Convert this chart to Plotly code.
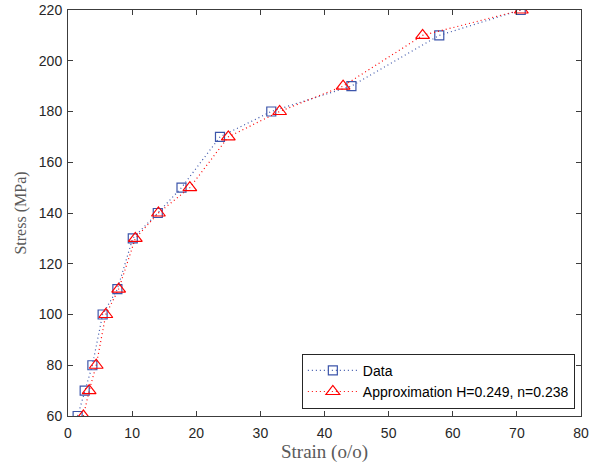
import plotly.graph_objects as go

stress = [60, 70, 80, 100, 110, 130, 140, 150, 170, 180, 190, 210, 220]
strain_data = [1.5, 2.6, 3.8, 5.4, 7.7, 10.1, 14.0, 17.7, 23.7, 31.7, 44.2, 57.9, 70.6]
strain_approx = [2.4, 3.3, 4.4, 5.9, 7.9, 10.5, 14.1, 19.0, 25.0, 33.0, 42.9, 55.3, 70.7]

blue = "rgb(60,85,170)"
red = "rgb(255,0,0)"

fig = go.Figure()
fig.add_trace(go.Scatter(
    x=strain_data, y=stress, mode="lines+markers", name="Data",
    line=dict(color=blue, dash="1px,3px", width=1.2),
    marker=dict(symbol="square-open", size=9, color=blue, line=dict(width=1.2)),
))
fig.add_trace(go.Scatter(
    x=strain_approx, y=stress, mode="lines+markers", name="Approximation H=0.249, n=0.238",
    line=dict(color=red, dash="1px,3px", width=1.2),
    marker=dict(symbol="triangle-up-open", size=12, color=red, line=dict(width=1.2)),
))

axis_common = dict(
    showline=True, linecolor="rgb(60,60,60)", linewidth=1, mirror="ticks",
    ticks="inside", ticklen=5, tickcolor="rgb(60,60,60)", showgrid=False, zeroline=False,
    automargin=False,
    tickfont=dict(family="Liberation Sans, Arial, sans-serif", size=14, color="rgb(38,38,38)"),
)
fig.update_xaxes(range=[0, 80], dtick=10, ticklabelstandoff=4, **axis_common,
                 title=dict(text="Strain (o/o)", standoff=0,
                            font=dict(family="Liberation Serif, Times New Roman, serif", size=19, color="rgb(90,90,90)")))
fig.update_yaxes(range=[60, 220], dtick=20, ticklabelstandoff=2, **axis_common,
                 title=dict(text="Stress (MPa)", standoff=8,
                            font=dict(family="Liberation Serif, Times New Roman, serif", size=16, color="rgb(90,90,90)")))

fig.update_layout(
    width=592, height=468,
    margin=dict(l=68, r=11, t=10, b=52),
    plot_bgcolor="white", paper_bgcolor="white",
    showlegend=True,
    legend=dict(x=0.988, y=0.018, xanchor="right", yanchor="bottom",
                bgcolor="white", bordercolor="rgb(38,38,38)", borderwidth=1,
                font=dict(family="Liberation Sans, Arial, sans-serif", size=14, color="black"),
                tracegroupgap=0, itemwidth=50),
)

fig.write_html("out.html")
